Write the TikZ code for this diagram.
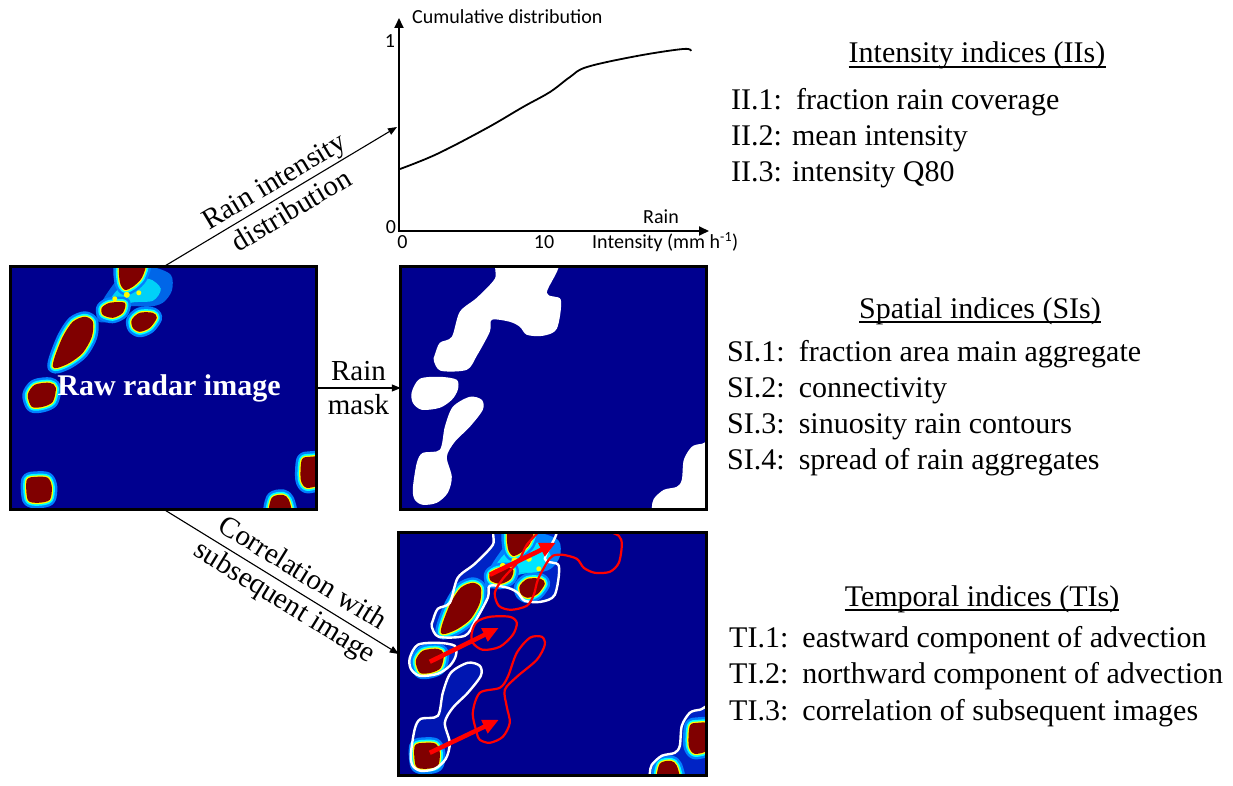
\documentclass[tikz,border=0pt]{standalone}
\usepackage{fontspec}
\setmainfont{Liberation Serif}
\newfontfamily\calib{Carlito}
\usetikzlibrary{arrows.meta,calc}

\definecolor{jetbg}{RGB}{0,0,143}
\definecolor{jetred}{RGB}{128,0,0}
\definecolor{jetcyan}{RGB}{0,255,255}
\definecolor{jetyel}{RGB}{255,255,0}
\definecolor{jetlb}{RGB}{0,128,255}
\definecolor{jetmb}{RGB}{0,50,220}
\definecolor{redline}{RGB}{255,0,0}

% rain cells (relative to image top-left, y downwards)
\newcommand{\BlobA}{plot[smooth cycle] coordinates {(110,-4) (134,-4) (131,11) (122,20) (114,23) (109,15)}}
\newcommand{\BlobB}{plot[smooth cycle] coordinates {(91,41) (99,36) (114,36) (112,46) (102,51) (92,48)}}
\newcommand{\BlobC}{plot[smooth cycle] coordinates {(121,53) (129,46) (142,46) (146,51) (139,61) (129,65) (122,61)}}
\newcommand{\BlobD}{plot[smooth cycle] coordinates {(42,100) (44,90) (52,70) (62,55) (74,50) (82,55) (81,70) (72,86) (59,96) (47,101)}}
\newcommand{\BlobE}{plot[smooth cycle] coordinates {(17,128) (24,118) (39,116) (45,121) (42,135) (32,140) (21,140)}}
\newcommand{\BlobF}{plot[smooth cycle] coordinates {(16,213) (26,210) (37,211) (41,220) (39,233) (27,236) (17,233)}}
\newcommand{\BlobG}{plot[smooth cycle] coordinates {(291,193) (299,190) (310,192) (310,216) (296,221) (290,213)}}
\newcommand{\BlobH}{plot[smooth cycle] coordinates {(259,248) (261,231) (272,228) (278,233) (280,248)}}
\newcommand{\GlowTop}{plot[smooth cycle] coordinates {(86,46) (94,30) (105,14) (112,2) (140,0) (160,8) (161,24) (152,36) (138,40) (118,40) (102,54) (88,55)}}
% mask / white contours
\newcommand{\WshA}{plot[smooth cycle] coordinates {(34,88) (39,76) (51,70) (59,45) (76,31) (94,12) (99,-6) (157,-6) (146,26) (160,33) (156,62) (142,69) (126,68) (119,60) (109,55) (91,53) (89,65) (76,89) (66,103) (40,104) (33,94)}}
\newcommand{\WshB}{plot[smooth cycle] coordinates {(11,125) (19,112) (39,110) (56,113) (57,123) (51,133) (39,141) (21,143) (12,136)}}
\newcommand{\WshC}{plot[smooth cycle] coordinates {(12,222) (16,196) (22,186) (39,183) (44,160) (52,140) (69,130) (81,133) (82,143) (69,160) (54,175) (46,190) (51,210) (47,226) (36,236) (22,238) (14,233)}}
\newcommand{\WshD}{plot[smooth cycle] coordinates {(251,241) (253,232) (263,223) (276,220) (281,213) (283,193) (291,180) (301,177) (318,176) (318,258) (250,258)}}
% red contours of the next image
\newcommand{\RshA}{plot[smooth] coordinates {(142,-3) (128,12) (120,28) (104,46) (96,60) (100,73) (112,77) (128,73) (135,62) (139,47) (148,30) (154,23) (164,22) (178,26) (185,35) (196,40) (211,39) (220,30) (223,12) (220,3) (206,-3)}}
\newcommand{\RshB}{plot[smooth cycle] coordinates {(73,100) (78,89) (91,84) (111,84) (118,90) (114,102) (101,114) (84,117) (74,110)}}
\newcommand{\RshC}{plot[smooth cycle] coordinates {(78,200) (74,180) (81,160) (101,155) (109,144) (118,120) (131,105) (143,104) (146,112) (138,127) (118,144) (106,157) (108,174) (111,190) (104,204) (91,210) (81,207)}}

\newcommand{\drawcell}[1]{%
  \path[draw=jetlb, line width=11pt, line join=round, fill=jetlb] #1;
  \path[draw=jetcyan, line width=6pt, line join=round] #1;
  \path[draw=jetyel, line width=2.6pt, line join=round] #1;
  \fill[jetred] #1;}
\newcommand{\allcells}{%
  \drawcell{\BlobA}\drawcell{\BlobB}\drawcell{\BlobC}\drawcell{\BlobD}%
  \drawcell{\BlobE}\drawcell{\BlobF}\drawcell{\BlobG}\drawcell{\BlobH}}

\tikzset{
  imgframe/.style={draw=none, fill=jetbg, inner sep=0pt, minimum width=305pt, minimum height=242pt},
  framebox/.style={line width=3pt, draw=black},
  conn/.style={line width=1.1pt, -{Triangle[length=9pt,width=7pt]}},
  axisline/.style={line width=1.8pt, -{Triangle[length=10pt,width=9pt]}},
  midlabel/.style={align=center, font=\fontsize{29}{34}\selectfont, inner sep=1pt},
  chartlbl/.style={font=\calib\fontsize{20}{23}\selectfont, inner sep=0pt},
  rtext/.style={anchor=base west, inner sep=0pt, font=\fontsize{30}{36}\selectfont},
  hdr/.style={anchor=base, inner sep=0pt, font=\fontsize{30}{36}\selectfont},
  uline/.style={line width=1.4pt},
  whitec/.style={draw=white, line width=2.4pt},
  redc/.style={draw=redline, line width=2.2pt},
  redarrow/.style={draw=redline, line width=4.5pt, -{Triangle[length=16pt,width=14pt]}, redline}
}

\begin{document}
\begin{tikzpicture}[x=1pt, y=-1pt]
\useasboundingbox (0,0) rectangle (1233,786);

% ---------- raw radar image ----------
\node[imgframe] (raw) at (163.5,388) {};
\begin{scope}[shift={(raw.north west)}]
  \clip (0,0) rectangle (305,242);
  \fill[jetlb, opacity=0.8] \GlowTop;
  \fill[jetcyan, opacity=0.7] plot[smooth cycle] coordinates {(96,40) (104,26) (116,16) (138,12) (150,22) (142,34) (120,36) (104,46)};
  \allcells
  \fill[jetyel] (116,28) circle (3);
  \fill[jetyel] (104,32) circle (2.5);
  \fill[jetyel] (128,26) circle (2.5);
\end{scope}
\draw[framebox] (raw.north west) rectangle (raw.south east);
\node[font=\bfseries\fontsize{30}{36}\selectfont, text=white, inner sep=0pt] (rawlbl) at (169,388) {Raw radar image};

% ---------- rain mask ----------
\node[imgframe] (mask) at (553.5,388) {};
\begin{scope}[shift={(mask.north west)}]
  \clip (0,0) rectangle (305,242);
  \fill[white] \WshA;
  \fill[white] \WshB;
  \fill[white] \WshC;
  \fill[white] \WshD;
\end{scope}
\draw[framebox] (mask.north west) rectangle (mask.south east);

% ---------- correlation image ----------
\node[imgframe, minimum width=307pt] (corr) at (552.5,654) {};
\begin{scope}[shift={(corr.north west)}]
  \clip (0,0) rectangle (307,242);
  \fill[jetmb, opacity=0.7] \WshA;
  \fill[jetmb, opacity=0.7] \WshB;
  \fill[jetmb, opacity=0.45] \WshC;
  \fill[jetmb, opacity=0.7] \WshD;
  \fill[jetlb] \GlowTop;
  \fill[jetcyan, opacity=0.8] plot[smooth cycle] coordinates {(92,44) (100,28) (114,15) (140,10) (152,24) (142,38) (120,42) (102,52)};
  \allcells
  \fill[jetyel] (116,28) circle (3.5);
  \fill[jetyel] (104,33) circle (3);
  \fill[jetyel] (130,26) circle (3);
  \fill[jetyel] (140,36) circle (2.5);
  \path[whitec] \WshA;
  \path[whitec] \WshB;
  \path[whitec] \WshC;
  \path[whitec] \WshD;
  \path[redc] \RshA;
  \path[redc] \RshB;
  \path[redc] \RshC;
  \coordinate (ra1) at (91,42);  \coordinate (rb1) at (157,10);
  \coordinate (ra2) at (31,129); \coordinate (rb2) at (100,95);
  \coordinate (ra3) at (31,220); \coordinate (rb3) at (100,187);
  \draw[redarrow] (ra1) -- (rb1);
  \draw[redarrow] (ra2) -- (rb2);
  \draw[redarrow] (ra3) -- (rb3);
\end{scope}
\draw[framebox] (corr.north west) rectangle (corr.south east);

% ---------- cumulative distribution chart ----------
\coordinate (orig) at (399,231);
\coordinate (ytop) at (399,18);
\coordinate (xend) at (709,231);
\coordinate (cdfin) at (397,127);
\draw[axisline] (orig) -- (ytop);
\draw[axisline] ([xshift=-1pt]orig) -- (xend);
\draw[line width=1.8pt] plot[smooth, tension=0.6] coordinates {(400,169) (437,154) (487,128) (523,107) (550,92) (570,77) (587,67) (637,56) (683,49) (691,51)};
\node[chartlbl, anchor=west] (cdlbl) at (412,17) {Cumulative distribution};
\node[chartlbl] (one) at (390,41) {1};
\node[chartlbl] (zy) at (391,227) {0};
\node[chartlbl] (zx) at (402.5,242) {0};
\node[chartlbl] (ten) at (544,242) {10};
\node[chartlbl] (rainl) at (661,217) {Rain};
\node[chartlbl, anchor=west] (intl) at (592,242) {Intensity (mm h\textsuperscript{-1})};

% ---------- connectors ----------
\draw[conn] (raw.north) -- (cdfin) node[midlabel, sloped, pos=0.51] {Rain intensity\\distribution};
\draw[conn] (raw.east) -- (mask.west) node[midlabel, midway] {Rain\\mask};
\draw[conn] (raw.south) -- (corr.west) node[midlabel, sloped, pos=0.55] {Correlation with\\subsequent image};

% ---------- indices ----------
\node[hdr] (hI) at (977,63) {Intensity indices (IIs)};
\draw[uline] ([yshift=-4pt]hI.base west) -- ([yshift=-4pt]hI.base east);
\node[rtext] (i1) at (731,110) {II.1:\hspace{0.47em}fraction rain coverage};
\node[rtext] (i2) at (731,146) {II.2: mean intensity};
\node[rtext] (i3) at (731,182) {II.3: intensity Q80};

\node[hdr] (hS) at (980,318) {Spatial indices (SIs)};
\draw[uline] ([yshift=-4pt]hS.base west) -- ([yshift=-4pt]hS.base east);
\node[rtext] (s1) at (727,361) {SI.1:\hspace{0.47em}fraction area main aggregate};
\node[rtext] (s2) at (727,397) {SI.2:\hspace{0.47em}connectivity};
\node[rtext] (s3) at (727,433) {SI.3:\hspace{0.47em}sinuosity rain contours};
\node[rtext] (s4) at (727,469) {SI.4:\hspace{0.47em}spread of rain aggregates};

\node[hdr] (hT) at (982,606) {Temporal indices (TIs)};
\draw[uline] ([yshift=-4pt]hT.base west) -- ([yshift=-4pt]hT.base east);
\node[rtext] (t1) at (729,647) {TI.1:\hspace{0.47em}eastward component of advection};
\node[rtext] (t2) at (729,683) {TI.2:\hspace{0.47em}northward component of advection};
\node[rtext] (t3) at (729,720) {TI.3:\hspace{0.47em}correlation of subsequent images};
\end{tikzpicture}
\end{document}
